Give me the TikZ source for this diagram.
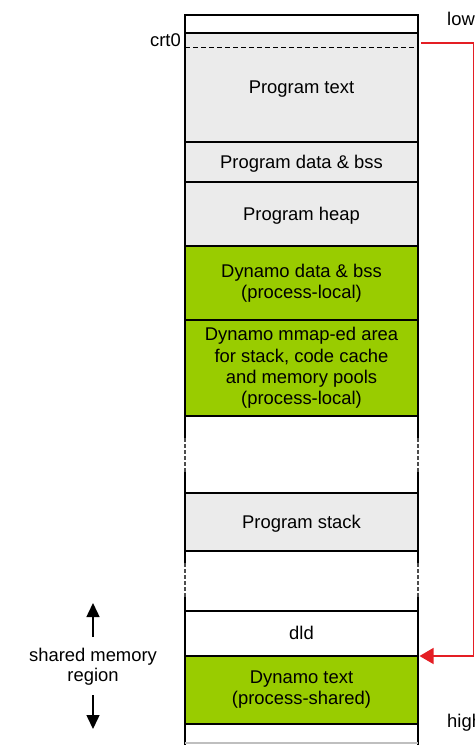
\documentclass[tikz,border=0pt]{standalone}
\usepackage{fontspec}
\setmainfont{Liberation Sans}
\usepackage{tikz}
\usetikzlibrary{arrows.meta, calc, positioning}
\definecolor{segGrey}{RGB}{235,235,235}
\definecolor{dynGreen}{RGB}{153,204,0}
\definecolor{linkRed}{RGB}{228,30,36}
% line box with the font's ascent and descent
\newcommand{\linestrut}{\rule[-0.212em]{0pt}{1.117em}}

\begin{document}
\begin{tikzpicture}[x=1pt, y=1pt, >={Triangle[length=14pt,width=13pt]}, font=\fontsize{18.4}{21.2}\selectfont]
    % Define segment styles locally
    \tikzstyle{blankseg} = [rectangle, draw, line width=1.4pt, minimum width=233pt, inner sep=0pt, outer sep=0pt, align=center]
    \tikzstyle{struts} = [execute at begin node=\linestrut, execute at end node=\linestrut]
    \tikzstyle{plainseg} = [blankseg, struts]
    \tikzstyle{greyseg} = [plainseg, fill=segGrey]
    \tikzstyle{dynseg} = [plainseg, fill=dynGreen]
    \tikzstyle{gapseg} = [blankseg, draw=none]
    \tikzstyle{side} = [line width=1.4pt]
    \tikzstyle{sidedash} = [line width=1.4pt, black!70, dash pattern=on 4pt off 2pt]

    \useasboundingbox (0,0) rectangle (474,-754);
    \clip (0,0) rectangle (474,-754);

    % Memory segments, top to bottom
    \node[blankseg, minimum height=18pt] (top) at (301.5,-24) {};
    \node[greyseg, minimum height=109pt, below=0pt of top] (ptext) {Program text};
    \node[greyseg, minimum height=40pt, below=0pt of ptext] (pdata) {Program data \& bss};
    \node[greyseg, minimum height=64pt, below=0pt of pdata] (pheap) {Program heap};
    \node[dynseg, minimum height=74pt, below=0pt of pheap] (ddata) {Dynamo data \& bss\\(process-local)};
    \node[dynseg, minimum height=96pt, below=0pt of ddata] (dmmap) {Dynamo mmap-ed area\\for stack, code cache\\and memory pools\\(process-local)};
    \node[gapseg, minimum height=77pt, below=0pt of dmmap] (gapA) {};
    \node[greyseg, minimum height=58pt, below=0pt of gapA] (pstack) {Program stack};
    \node[gapseg, minimum height=60pt, below=0pt of pstack] (gapB) {};
    \node[plainseg, minimum height=45pt, below=0pt of gapB] (dld) {dld};
    \node[dynseg, minimum height=68pt, below=0pt of dld] (dtext) {Dynamo text\\(process-shared)};
    \node[gapseg, minimum height=19pt, below=0pt of dtext] (bottom) {};

    % crt0 boundary inside program text
    \draw[line width=1pt, dash pattern=on 5pt off 3pt] ($(ptext.north west)+(0,-15)$) -- ($(ptext.north east)+(0,-15)$);
    \node[anchor=east, inner sep=0pt] (crt) at ($(ptext.north west)+(-4,-7)$) {crt0};

    % Sides of the unmapped gaps
    \foreach \s in {west,east} {
        \draw[side] (gapA.north \s) -- ($(gapA.north \s)!0.29!(gapA.south \s)$);
        \draw[sidedash] ($(gapA.north \s)!0.29!(gapA.south \s)$) -- ($(gapA.north \s)!0.73!(gapA.south \s)$);
        \draw[side] ($(gapA.north \s)!0.73!(gapA.south \s)$) -- (gapA.south \s);
        \draw[side] (gapB.north \s) -- ($(gapB.north \s)!0.2!(gapB.south \s)$);
        \draw[sidedash] ($(gapB.north \s)!0.2!(gapB.south \s)$) -- ($(gapB.north \s)!0.77!(gapB.south \s)$);
        \draw[side] ($(gapB.north \s)!0.77!(gapB.south \s)$) -- (gapB.south \s);
        \draw[side] (bottom.north \s) -- ($(bottom.south \s)+(0,-2)$);
    }
    \draw[line width=1.2pt, black!25] (bottom.south west) -- (bottom.south east);

    % Address labels on the right
    \node[anchor=west, inner sep=0pt] (low) at (447,-19) {low};
    \node[anchor=west, inner sep=0pt] (high) at (447,-723) {high};

    % crt0 -> Dynamo text
    \coordinate (crtexit) at ($(ptext.north east)+(3,-10)$);
    \coordinate (rail) at (473.5,-43);
    \draw[linkRed, line width=1.3pt, -{Triangle[length=14pt,width=16pt]}, shorten >=1.5pt] (crtexit) -- (rail) |- (dtext.north east);

    % Shared memory region
    \node[align=center, inner sep=0pt, font=\fontsize{18.4}{20.5}\selectfont, struts] (shared) at (93,-667) {shared memory\\region};
    \coordinate (shup) at (93,-603);
    \coordinate (shdown) at (93,-729);
    \draw[->, line width=1.5pt] ($(shared.center)+(0,30)$) -- (shup);
    \draw[->, line width=1.5pt] ($(shared.center)+(0,-28)$) -- (shdown);

\end{tikzpicture}
\end{document}
